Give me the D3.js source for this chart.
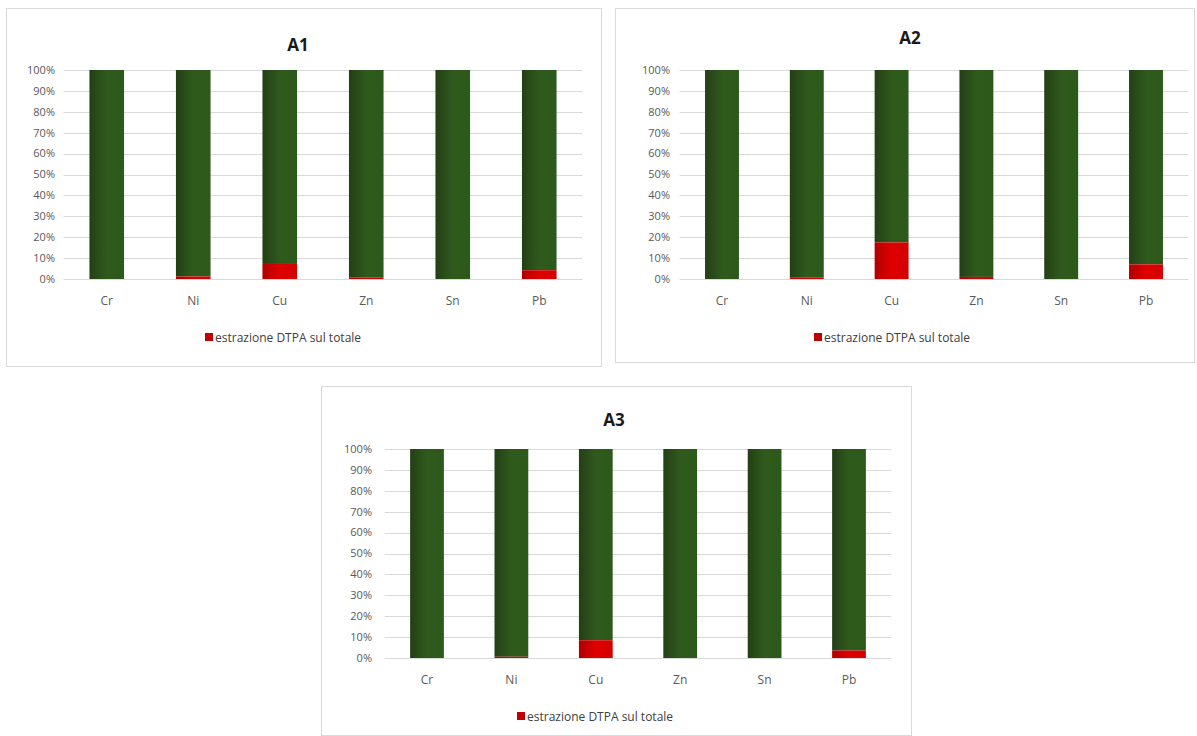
<!DOCTYPE html>
<html><head><meta charset="utf-8">
<script src="https://cdn.jsdelivr.net/npm/d3@7"></script>
<style>
body{margin:0;background:#fff;}
svg{display:block;font-family:"Open Sans","Liberation Sans",sans-serif;}
</style></head>
<body>
<svg id="chart" width="1197" height="736"></svg>
<script>
const categories = ["Cr","Ni","Cu","Zn","Sn","Pb"];
const yTicks = [0,0.1,0.2,0.3,0.4,0.5,0.6,0.7,0.8,0.9,1];
const legendLabel = "estrazione DTPA sul totale";
const titles = ["A1","A2","A3"];
// DTPA-extracted share (%) and remainder (%)
const a1Dtpa = [0, 1.2, 7.2, 0.8, 0, 4.2];
const a1Rest = [100, 98.8, 92.8, 99.2, 100, 95.8];
const a2Dtpa = [0, 0.6, 17.5, 1.0, 0, 7.0];
const a2Rest = [100, 99.4, 82.5, 99.0, 100, 93.0];
const a3Dtpa = [0, 0.6, 8.5, 0, 0, 3.6];
const a3Rest = [100, 99.4, 91.5, 100, 100, 96.4];

const panels = [
  {title: titles[0], dtpa: a1Dtpa, rest: a1Rest, box:[6,8,595,358], x:[63.5,582.5], y:[279,70], tickX:55, titleX:298, titleY:51, labY:305, legY:338, legX:205},
  {title: titles[1], dtpa: a2Dtpa, rest: a2Rest, box:[615,8,579,354], x:[679.6,1188.4], y:[279,70], tickX:670, titleX:910, titleY:44, labY:305, legY:338, legX:814},
  {title: titles[2], dtpa: a3Dtpa, rest: a3Rest, box:[321,386,590,349], x:[384.8,891.2], y:[658,449], tickX:372, titleX:614, titleY:426, labY:684, legY:717, legX:517}
];

const svg = d3.select("#chart");
const defs = svg.append("defs");
const gG = defs.append("linearGradient").attr("id","gGreen").attr("x1","0").attr("x2","1").attr("y1","0").attr("y2","0");
gG.append("stop").attr("offset","0").attr("stop-color","#243f16");
gG.append("stop").attr("offset","0.5").attr("stop-color","#2f5a1d");
gG.append("stop").attr("offset","1").attr("stop-color","#2c5a1a");
const gR = defs.append("linearGradient").attr("id","gRed").attr("x1","0").attr("x2","1").attr("y1","0").attr("y2","0");
gR.append("stop").attr("offset","0").attr("stop-color","#b00000");
gR.append("stop").attr("offset","0.5").attr("stop-color","#e00000");
gR.append("stop").attr("offset","1").attr("stop-color","#d40000");

panels.forEach(p => {
  const g = svg.append("g");
  g.append("rect").attr("x",p.box[0]+0.5).attr("y",p.box[1]+0.5).attr("width",p.box[2]).attr("height",p.box[3])
    .attr("fill","#fff").attr("stroke","#d9d9d9").attr("stroke-width",1);
  const x = d3.scaleBand().domain(categories).range(p.x).paddingInner(0.6).paddingOuter(0.3);
  const y = d3.scaleLinear().domain([0,1]).range(p.y);

  g.append("g").selectAll("line").data(yTicks).join("line")
    .attr("x1",p.x[0]).attr("x2",p.x[1])
    .attr("y1",d=>Math.round(y(d))+0.5).attr("y2",d=>Math.round(y(d))+0.5)
    .attr("stroke","#d9d9d9").attr("stroke-width",1);

  g.append("g").selectAll("text").data(yTicks).join("text")
    .attr("x",p.tickX).attr("y",d=>y(d)).attr("dy","0.35em")
    .attr("text-anchor","end").attr("font-size",11).attr("fill","#595959")
    .text(d3.format(".0%"));

  const rows = categories.map((c,i)=>{
    const tot = p.dtpa[i]+p.rest[i];
    return {c, d: p.dtpa[i]/tot, r: p.rest[i]/tot};
  });
  g.append("g").selectAll("rect").data(rows).join("rect")
    .attr("x",d=>x(d.c)).attr("width",x.bandwidth())
    .attr("y",d=>y(1)).attr("height",d=>y(d.d)-y(1))
    .attr("fill","url(#gGreen)");
  g.append("g").selectAll("rect").data(rows.filter(d=>d.d>0)).join("rect")
    .attr("x",d=>x(d.c)).attr("width",x.bandwidth())
    .attr("y",d=>y(d.d)).attr("height",d=>y(0)-y(d.d))
    .attr("fill","url(#gRed)");

  g.append("g").selectAll("text").data(categories).join("text")
    .attr("x",d=>x(d)+x.bandwidth()/2).attr("y",p.labY)
    .attr("text-anchor","middle").attr("font-size",12).attr("fill","#595959")
    .text(d=>d);

  g.append("text").attr("x",p.titleX).attr("y",p.titleY)
    .attr("text-anchor","middle").attr("font-size",17).attr("font-weight","bold").attr("fill","#1a1a1a")
    .text(p.title);

  g.append("rect").attr("x",p.legX).attr("y",p.legY-5).attr("width",8).attr("height",8).attr("fill","#c00000");
  g.append("text").attr("x",p.legX+10).attr("y",p.legY).attr("dy","0.35em")
    .attr("font-size",12).attr("fill","#404040").text(legendLabel);
});
</script>
</body></html>
